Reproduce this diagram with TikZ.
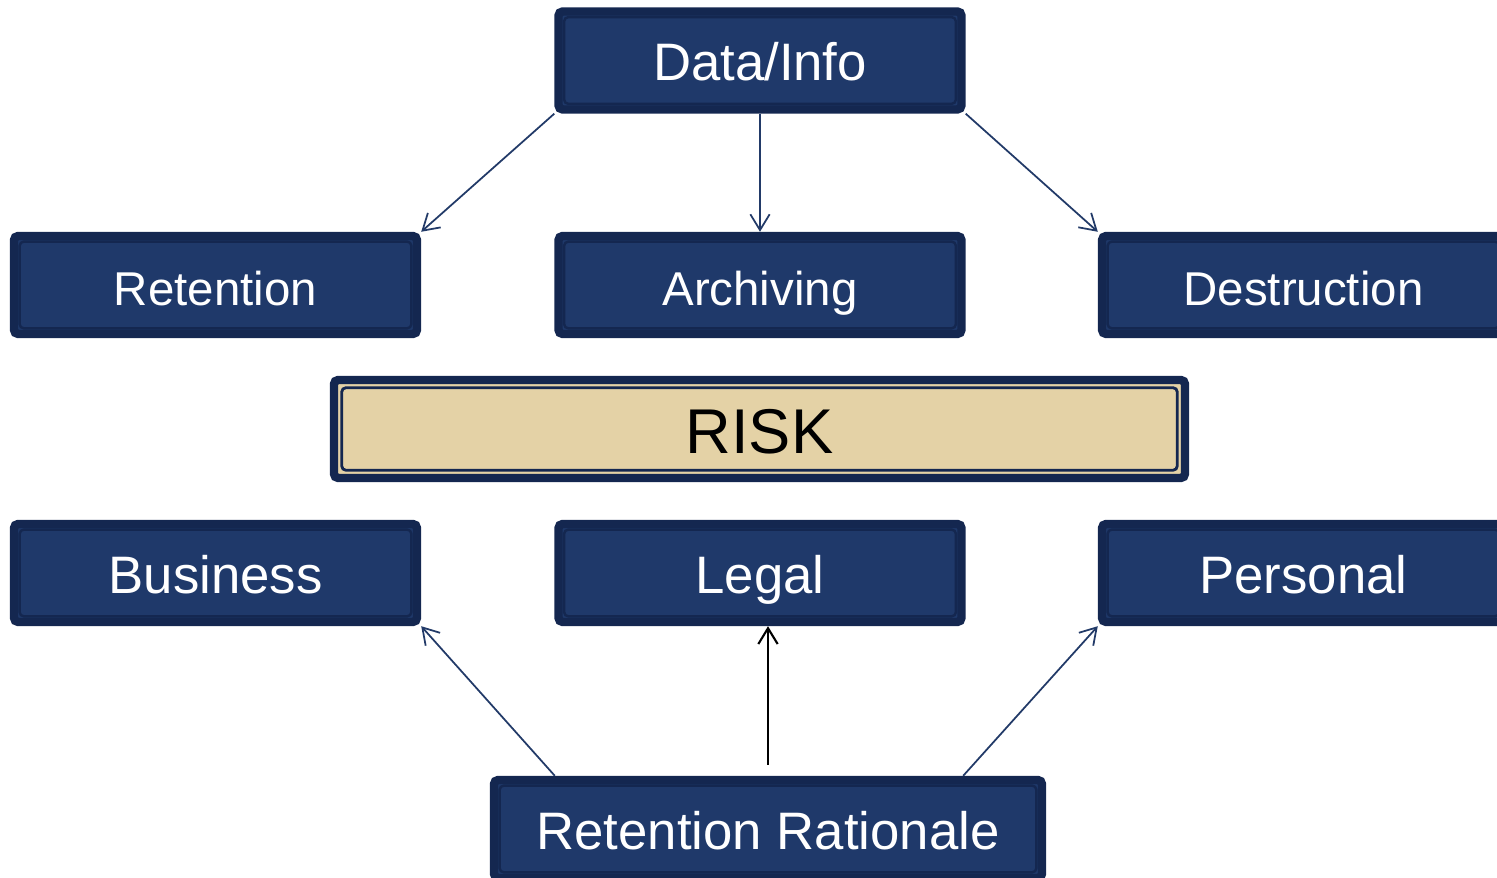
\documentclass[tikz,border=0pt]{standalone}
\usepackage{fontspec}
\setmainfont{Liberation Sans}
\usetikzlibrary{arrows.meta}
\definecolor{boxnavy}{RGB}{31,57,106}
\definecolor{edgenavy}{RGB}{20,39,80}
\definecolor{linenavy}{RGB}{34,58,104}
\definecolor{riskbeige}{RGB}{228,210,166}
\tikzset{
    navybox/.style={rectangle, rounded corners=1.2pt, fill=boxnavy, draw=edgenavy,
        line width=2.4pt, minimum width=4.03cm, minimum height=0.98cm, inner sep=0pt,
        text height=11.6pt, text depth=0pt,
        text=white, font=\fontsize{15}{18}\selectfont,
        path picture={\draw[edgenavy, line width=0.7pt]
            ([shift={(1.6pt,1.6pt)}]path picture bounding box.south west) rectangle
            ([shift={(-1.6pt,-1.6pt)}]path picture bounding box.north east);}},
    smallbox/.style={font=\fontsize{13.5}{16}\selectfont},
    riskbox/.style={navybox, fill=riskbeige, text=black, text height=13.8pt,
        font=\fontsize{18}{21}\selectfont,
        path picture={\draw[edgenavy, line width=0.8pt]
            ([shift={(2.2pt,2.2pt)}]path picture bounding box.south west) rectangle
            ([shift={(-2.2pt,-2.2pt)}]path picture bounding box.north east);}},
    link/.style={linenavy, line width=0.5pt, -{Straight Barb[length=4.5pt,width=5.5pt]}}
}
\begin{document}
\begin{tikzpicture}
        \useasboundingbox (0,0) rectangle (14.97,8.78);
        \begin{scope}[every node/.style={navybox}]
            \node (data) at (7.60, 8.175) {Data/Info};
            \node[smallbox] (ret) at (2.155, 5.93) {Retention};
            \node[smallbox] (arch) at (7.60, 5.93) {Archiving};
            \node[smallbox] (dest) at (13.035, 5.93) {Destruction};
            \node[riskbox, minimum width=8.51cm] (risk) at (7.595, 4.49) {RISK};
            \node (bus) at (2.155, 3.05) {Business};
            \node (legal) at (7.60, 3.05) {Legal};
            \node (pers) at (13.035, 3.05) {Personal};
            \node[minimum width=5.48cm] (rr) at (7.68, 0.49) {Retention Rationale};
        \end{scope}
        \begin{scope}[every edge/.style={draw, link}]
            \path (data.south west) edge (ret.north east);
            \path (data.south) edge (arch.north);
            \path (data.south east) edge (dest.north west);
            \path ([xshift=0.65cm]rr.north west) edge (bus.south east);
            \path ([xshift=-0.83cm]rr.north east) edge (pers.south west);
            \path ([yshift=0.11cm]rr.north) edge[black, line width=0.6pt] (rr.north |- legal.south);
        \end{scope}
    \end{tikzpicture}
\end{document}
